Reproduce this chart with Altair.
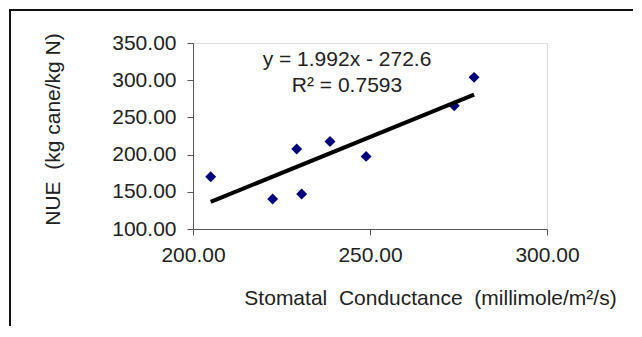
import altair as alt
import pandas as pd

# Data
conductance = [205.0, 222.5, 229.3, 230.7, 238.7, 248.9, 273.8, 279.4]
nue = [170.3, 140.3, 207.5, 147.0, 217.7, 197.6, 265.7, 303.8]
x_ticks = [200, 250, 300]
y_ticks = [100, 150, 200, 250, 300, 350]
equation_lines = ["y = 1.992x  - 272.6", "R² = 0.7593"]

df = pd.DataFrame({"x": conductance, "y": nue})
one = pd.DataFrame({"a": [0]})

FONT = "Liberation Sans"

x_enc = alt.X(
    "x:Q",
    scale=alt.Scale(domain=[200, 300], nice=False, zero=False),
    axis=alt.Axis(
        values=x_ticks, format=".2f", grid=False,
        title="Stomatal\u00a0 Conductance\u00a0 (millimole/m²/s)",
        titleX=237, titleY=58, titleAlign="center", titleBaseline="top",
        titleFontSize=21, titleFontWeight="normal", titleColor="#222",
        labelFontSize=21, labelColor="#222", labelPadding=9,
        tickSize=6, tickColor="#555", domainColor="#555",
        labelFlush=False, labelOverlap=False,
    ),
)
y_enc = alt.Y(
    "y:Q",
    scale=alt.Scale(domain=[100, 350], nice=False, zero=False),
    axis=alt.Axis(
        values=y_ticks, format=".2f", grid=False,
        title="NUE\u00a0 (kg cane/kg N)",
        titleX=-140, titleY=86, titleAngle=270, titleAlign="center",
        titleBaseline="middle",
        titleFontSize=21, titleFontWeight="normal", titleColor="#222",
        labelFontSize=21, labelColor="#222", labelPadding=11,
        tickSize=6, tickColor="#555", domainColor="#555",
        labelFlush=False, labelOverlap=False,
    ),
)

points = alt.Chart(df).mark_point(
    shape="diamond", filled=True, size=120, color="#00007a", opacity=1
).encode(x=x_enc, y=y_enc)

trend = alt.Chart(df).transform_regression(
    "x", "y", method="linear"
).mark_line(color="black", strokeWidth=4).encode(x=x_enc, y=y_enc)

eq1 = alt.Chart(one).mark_text(
    font=FONT, fontSize=21, color="#222", align="center", baseline="alphabetic"
).encode(x=alt.value(154), y=alt.value(23), text=alt.value(equation_lines[0]))
eq2 = alt.Chart(one).mark_text(
    font=FONT, fontSize=21, color="#222", align="center", baseline="alphabetic"
).encode(x=alt.value(154), y=alt.value(49), text=alt.value(equation_lines[1]))

border_top = alt.Chart(one).mark_rule(color="#111", strokeWidth=2, clip=False).encode(
    x=alt.value(-183), x2=alt.value(460), y=alt.value(-33)
)
border_left = alt.Chart(one).mark_rule(color="#111", strokeWidth=2, clip=False).encode(
    x=alt.value(-183), y=alt.value(-34), y2=alt.value(300)
)

chart = alt.layer(points, trend, border_top, border_left, eq1, eq2).properties(
    width=354, height=186,
    autosize=alt.AutoSizeParams(type="none"),
    padding={"left": 185, "top": 35, "right": 86, "bottom": 97},
).configure_view(stroke=None).configure(font=FONT).configure_axis(
    labelFont=FONT, titleFont=FONT, labelOverlap=False
)

chart.save("out.html", embed_options={"renderer": "svg", "actions": False})
